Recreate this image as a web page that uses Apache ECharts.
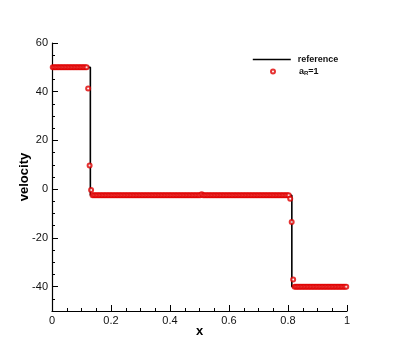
<!DOCTYPE html>
<html><head><meta charset="utf-8">
<script src="https://cdn.jsdelivr.net/npm/echarts@6/dist/echarts.min.js"></script>
<style>html,body{margin:0;padding:0;background:#fff}#c{width:395px;height:351px}</style>
</head><body><div id="c"></div>
<script>
// reference (exact) solution: step profile
var refX = [0, 0.13, 0.13, 0.813, 0.813, 1];
var refY = [50, 50, -2.5, -2.5, -40, -40];

// tick labels
var xTicks = [0, 0.2, 0.4, 0.6, 0.8, 1];
var yTicks = [-40, -20, 0, 20, 40, 60];

// numerical solution a_R=1 (cell centres)
var numX = [
0.0025,0.0075,0.0125,0.0175,0.0225,0.0275,0.0325,0.0375,0.0425,0.0475,
0.0525,0.0575,0.0625,0.0675,0.0725,0.0775,0.0825,0.0875,0.0925,0.0975,
0.1025,0.1075,0.1125,0.1175,0.1225,0.1275,0.1325,0.1375,0.1425,0.1475,
0.1525,0.1575,0.1625,0.1675,0.1725,0.1775,0.1825,0.1875,0.1925,0.1975,
0.2025,0.2075,0.2125,0.2175,0.2225,0.2275,0.2325,0.2375,0.2425,0.2475,
0.2525,0.2575,0.2625,0.2675,0.2725,0.2775,0.2825,0.2875,0.2925,0.2975,
0.3025,0.3075,0.3125,0.3175,0.3225,0.3275,0.3325,0.3375,0.3425,0.3475,
0.3525,0.3575,0.3625,0.3675,0.3725,0.3775,0.3825,0.3875,0.3925,0.3975,
0.4025,0.4075,0.4125,0.4175,0.4225,0.4275,0.4325,0.4375,0.4425,0.4475,
0.4525,0.4575,0.4625,0.4675,0.4725,0.4775,0.4825,0.4875,0.4925,0.4975,
0.5025,0.5075,0.5125,0.5175,0.5225,0.5275,0.5325,0.5375,0.5425,0.5475,
0.5525,0.5575,0.5625,0.5675,0.5725,0.5775,0.5825,0.5875,0.5925,0.5975,
0.6025,0.6075,0.6125,0.6175,0.6225,0.6275,0.6325,0.6375,0.6425,0.6475,
0.6525,0.6575,0.6625,0.6675,0.6725,0.6775,0.6825,0.6875,0.6925,0.6975,
0.7025,0.7075,0.7125,0.7175,0.7225,0.7275,0.7325,0.7375,0.7425,0.7475,
0.7525,0.7575,0.7625,0.7675,0.7725,0.7775,0.7825,0.7875,0.7925,0.7975,
0.8025,0.8075,0.8125,0.8175,0.8225,0.8275,0.8325,0.8375,0.8425,0.8475,
0.8525,0.8575,0.8625,0.8675,0.8725,0.8775,0.8825,0.8875,0.8925,0.8975,
0.9025,0.9075,0.9125,0.9175,0.9225,0.9275,0.9325,0.9375,0.9425,0.9475,
0.9525,0.9575,0.9625,0.9675,0.9725,0.9775,0.9825,0.9875,0.9925,0.9975
];
var numY = [
50,50,50,50,50,50,50,50,50,50,
50,50,50,50,50,50,50,50,50,50,
50,50,50,50,41.3,9.7,-0.3,-2.5,-2.5,-2.5,
-2.5,-2.5,-2.5,-2.5,-2.5,-2.5,-2.5,-2.5,-2.5,-2.5,
-2.5,-2.5,-2.5,-2.5,-2.5,-2.5,-2.5,-2.5,-2.5,-2.5,
-2.5,-2.5,-2.5,-2.5,-2.5,-2.5,-2.5,-2.5,-2.5,-2.5,
-2.5,-2.5,-2.5,-2.5,-2.5,-2.5,-2.5,-2.5,-2.5,-2.5,
-2.5,-2.5,-2.5,-2.5,-2.5,-2.5,-2.5,-2.5,-2.5,-2.5,
-2.5,-2.5,-2.5,-2.5,-2.5,-2.5,-2.5,-2.5,-2.5,-2.5,
-2.5,-2.5,-2.5,-2.5,-2.5,-2.5,-2.5,-2.5,-2.5,-2.5,
-2.5,-2.1,-2.5,-2.5,-2.5,-2.5,-2.5,-2.5,-2.5,-2.5,
-2.5,-2.5,-2.5,-2.5,-2.5,-2.5,-2.5,-2.5,-2.5,-2.5,
-2.5,-2.5,-2.5,-2.5,-2.5,-2.5,-2.5,-2.5,-2.5,-2.5,
-2.5,-2.5,-2.5,-2.5,-2.5,-2.5,-2.5,-2.5,-2.5,-2.5,
-2.5,-2.5,-2.5,-2.5,-2.5,-2.5,-2.5,-2.5,-2.5,-2.5,
-2.5,-2.5,-2.5,-2.5,-2.5,-2.5,-2.5,-2.5,-2.5,-2.5,
-2.5,-3.9,-13.5,-37.1,-40,-40,-40,-40,-40,-40,
-40,-40,-40,-40,-40,-40,-40,-40,-40,-40,
-40,-40,-40,-40,-40,-40,-40,-40,-40,-40,
-40,-40,-40,-40,-40,-40,-40,-40,-40,-40
];

var FONT = '"Liberation Sans", Arial, Helvetica, sans-serif';
var RED = '#e00000';
var refData = refX.map(function (x, i) { return [x, refY[i]]; });
var numData = numX.map(function (x, i) { return [x, numY[i]]; });

var chart = echarts.init(document.getElementById('c'), null, {renderer: 'canvas'});
chart.setOption({
  animation: false,
  backgroundColor: '#fff',
  grid: {left: 52, right: 48, top: 43, bottom: 40, containLabel: false},
  legend: [{
    data: ['reference'], left: 252, top: 55, orient: 'vertical',
    itemWidth: 38, itemHeight: 8, padding: 0,
    itemStyle: {opacity: 0},
    lineStyle: {color: '#000', width: 1.6},
    textStyle: {fontFamily: FONT, fontSize: 9, fontWeight: 'bold', color: '#111', padding: [0, 0, 0, 2]}
  }, {
    data: ['aR=1'], left: 270, top: 67, orient: 'vertical',
    itemWidth: 4, itemHeight: 4, padding: 0,
    itemStyle: {borderWidth: 0.8},
    formatter: function () { return '{a|a}{s|R}{a|=1}'; },
    textStyle: {fontFamily: FONT, fontSize: 9, fontWeight: 'bold', color: '#111', padding: [0, 0, 0, 19],
      rich: {
        a: {fontFamily: FONT, fontSize: 9, fontWeight: 'bold', color: '#111'},
        s: {fontFamily: FONT, fontSize: 6, fontWeight: 'bold', color: '#111', verticalAlign: 'bottom', padding: [4, 0, 0, 0]}
      }}
  }],
  xAxis: {
    type: 'value', min: 0, max: 1, interval: 0.2,
    name: 'x', nameLocation: 'middle', nameGap: 14, nameMoveOverlap: false,
    nameTextStyle: {fontFamily: FONT, fontSize: 13, fontWeight: 'bold', color: '#000'},
    axisLine: {show: true, onZero: false, lineStyle: {color: '#000', width: 1.2}},
    axisTick: {show: true, inside: true, length: 6, lineStyle: {color: '#000', width: 1}},
    minorTick: {show: true, splitNumber: 4, length: 3, lineStyle: {color: '#000', width: 1}},
    splitLine: {show: false},
    axisLabel: {fontFamily: FONT, fontSize: 11, color: '#111', margin: 4, customValues: xTicks,
      formatter: function (v) { return String(Math.round(v * 10) / 10); }}
  },
  yAxis: [{
    type: 'value', min: -50, max: 60, interval: 5, position: 'left',
    axisLine: {show: true, onZero: false, lineStyle: {color: '#000', width: 1.2}},
    axisTick: {show: true, inside: true, length: 3, lineStyle: {color: '#000', width: 1}},
    splitLine: {show: false},
    axisLabel: {show: false}
  }, {
    type: 'value', min: -50, max: 60, position: 'left', offset: 0,
    name: 'velocity', nameLocation: 'middle', nameGap: 21, nameMoveOverlap: false,
    nameTextStyle: {fontFamily: FONT, fontSize: 13, fontWeight: 'bold', color: '#000'},
    axisLine: {show: false},
    axisTick: {show: true, inside: true, length: 6, customValues: yTicks, lineStyle: {color: '#000', width: 1}},
    splitLine: {show: false},
    axisLabel: {fontFamily: FONT, fontSize: 11, color: '#111', margin: 4, customValues: yTicks}
  }],
  series: [{
    name: 'reference', type: 'line', data: refData, symbol: 'none', yAxisIndex: 0,
    lineStyle: {color: '#000', width: 1.6}, itemStyle: {color: '#000'}, z: 2
  }, {
    name: 'aR=1', type: 'scatter', data: numData, symbol: 'emptyCircle', symbolSize: 4, yAxisIndex: 0,
    itemStyle: {color: RED, borderColor: RED, borderWidth: 0.8}, z: 3
  }]
});
</script></body></html>
